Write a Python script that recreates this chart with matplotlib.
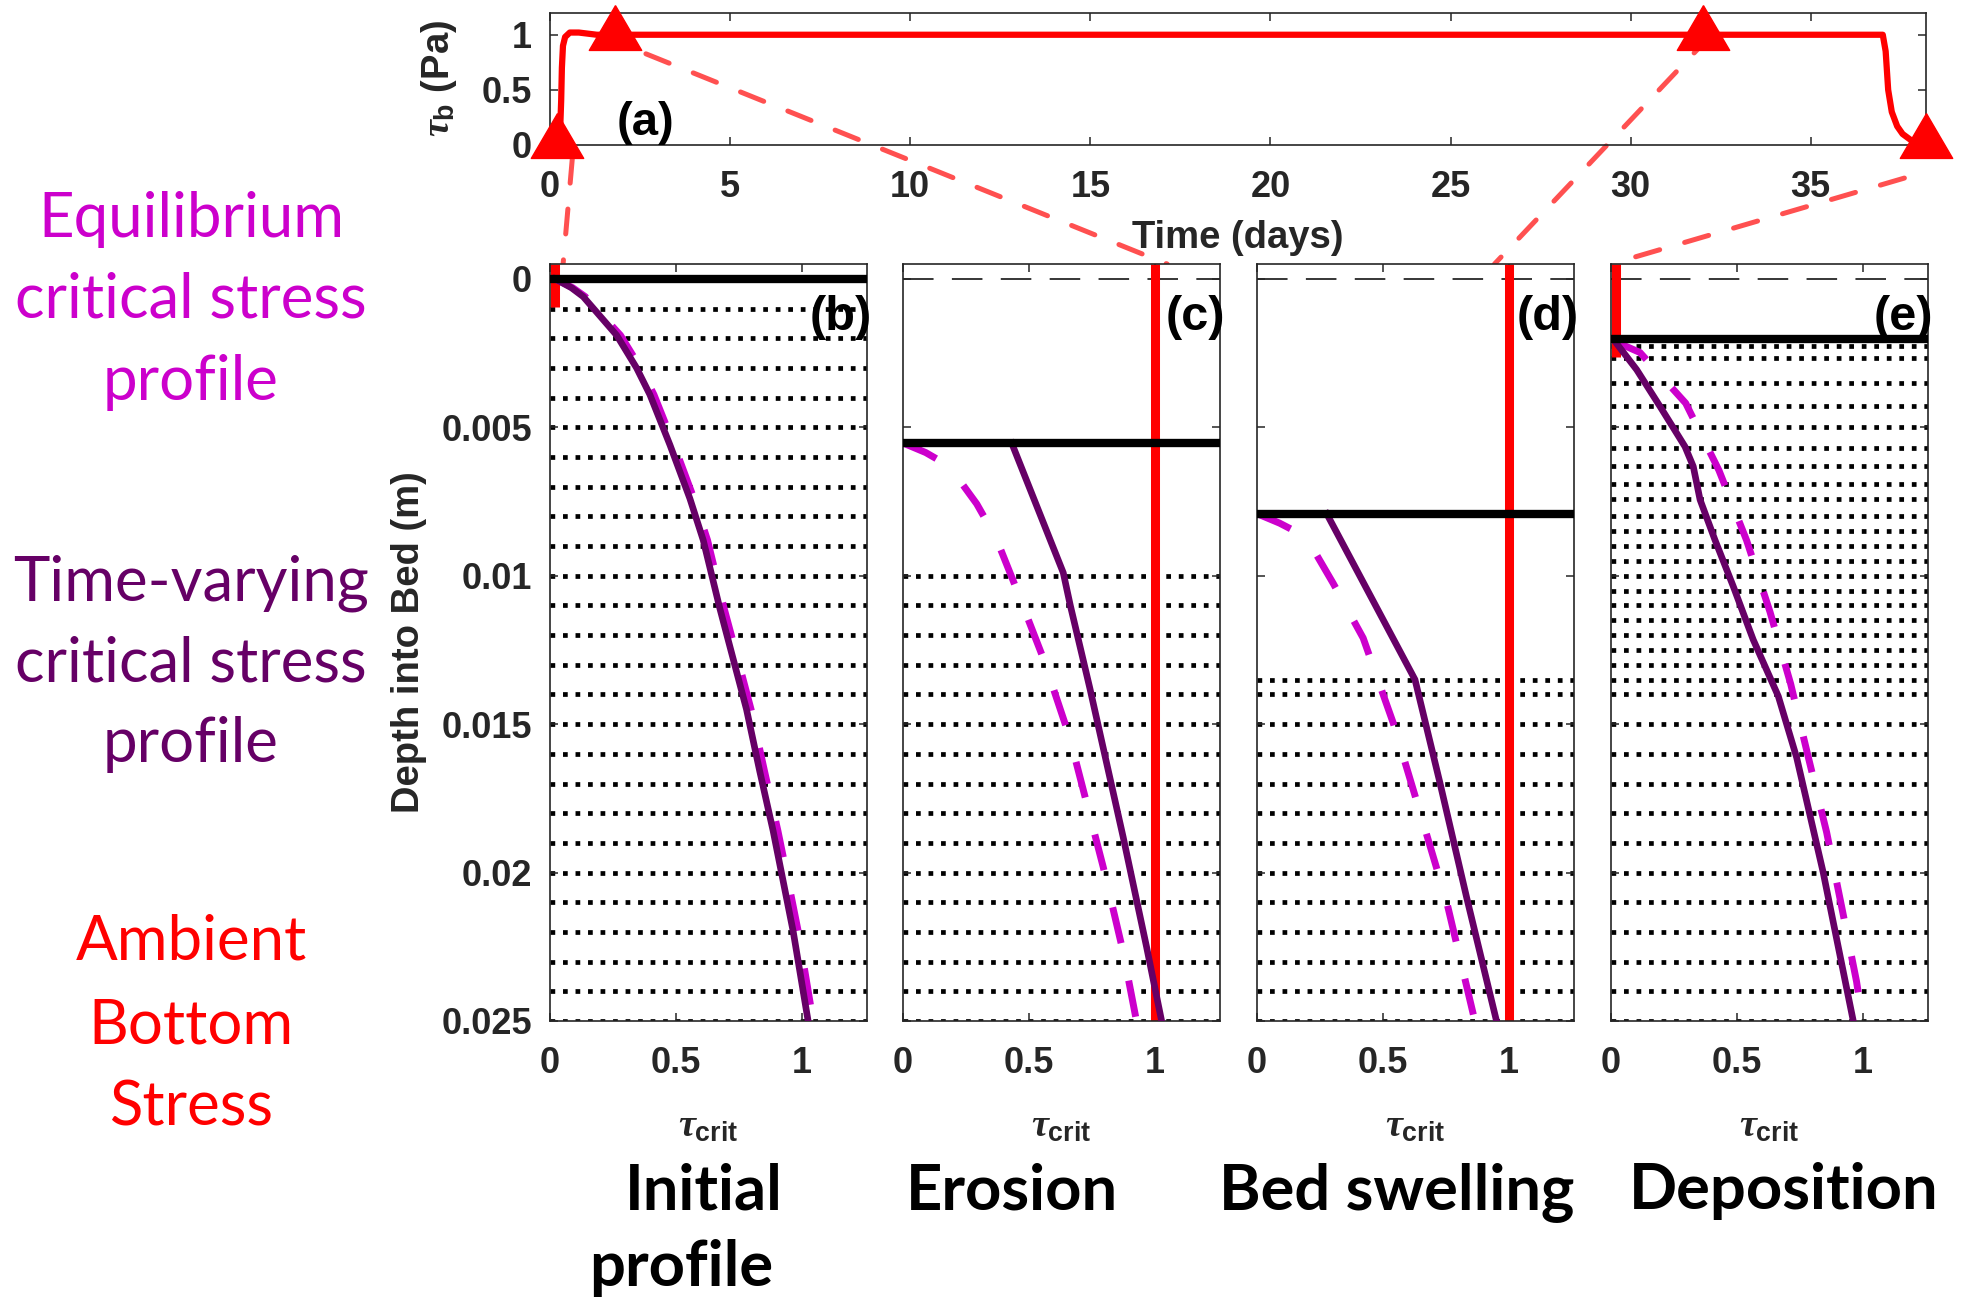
import matplotlib
matplotlib.use("Agg")
import matplotlib.pyplot as plt
from matplotlib.patches import ConnectionPatch
from matplotlib.path import Path

plt.rcParams["font.family"] = ["Liberation Sans", "DejaVu Sans"]
plt.rcParams["font.weight"] = "bold"
plt.rcParams["axes.labelweight"] = "bold"
plt.rcParams["mathtext.fontset"] = "custom"
plt.rcParams["mathtext.rm"] = "Liberation Sans:bold"
plt.rcParams["mathtext.bf"] = "Liberation Sans:bold"
plt.rcParams["mathtext.it"] = "Liberation Serif:italic"

# ----- (a) bottom stress time series -----
time_days = [0.2, 0.28, 0.31, 0.33, 0.36, 0.42, 0.55, 0.8, 1.3,
             37.0, 37.08, 37.15, 37.25, 37.4, 37.55, 37.8, 38.2]
tau_b = [0.02, 0.12, 0.4, 0.7, 0.9, 0.98, 1.02, 1.02, 1.0,
         1.0, 0.85, 0.5, 0.3, 0.17, 0.1, 0.04, 0.02]
snap_t = [0.2, 1.8, 32.0, 38.2]
snap_tau = [0.02, 1.0, 1.0, 0.02]

# ----- (b) initial profile -----
surf_b = 0.0
layers_b = [0.001, 0.002, 0.003, 0.004, 0.005, 0.006, 0.007, 0.008, 0.009, 0.010,
            0.011, 0.012, 0.013, 0.014, 0.015, 0.016, 0.017, 0.018, 0.019, 0.020,
            0.021, 0.022, 0.023, 0.024, 0.025]
z_tv_b = [0.0, 0.0003, 0.0006, 0.0019, 0.003, 0.0039, 0.0056, 0.0074, 0.0088,
          0.0111, 0.0128, 0.0145, 0.0166, 0.0186, 0.0203, 0.022, 0.025]
tc_tv_b = [0.02, 0.085, 0.132, 0.265, 0.344, 0.397, 0.477, 0.556, 0.609,
           0.675, 0.728, 0.781, 0.834, 0.887, 0.927, 0.967, 1.026]
z_eq_b = z_tv_b
tc_eq_b = [0.02, 0.09, 0.14, 0.28, 0.36, 0.413, 0.493, 0.572, 0.626,
           0.692, 0.746, 0.799, 0.853, 0.906, 0.947, 0.987, 1.046]
tau_now_b = 0.02
red_end_b = 0.00094

# ----- (c) erosion -----
surf_c = 0.00553
layers_c = [0.010, 0.011, 0.012, 0.013, 0.014, 0.015, 0.016, 0.017, 0.018, 0.019,
            0.020, 0.021, 0.022, 0.023, 0.024, 0.025]
z_tv_c = [0.00553, 0.0099, 0.011, 0.0138, 0.0188, 0.0225, 0.025]
tc_tv_c = [0.432, 0.637, 0.665, 0.743, 0.875, 0.968, 1.028]
z_eq_c = [0.00553, 0.00585, 0.00607, 0.00673, 0.00758, 0.00873, 0.01017, 0.01277,
          0.01546, 0.01982, 0.02267, 0.025]
tc_eq_c = [0.0, 0.09, 0.135, 0.22, 0.293, 0.37, 0.438, 0.557,
           0.663, 0.796, 0.875, 0.928]
tau_now_c = 1.0
red_end_c = 0.025

# ----- (d) bed swelling -----
surf_d = 0.00791
layers_d = [0.0135, 0.014, 0.015, 0.016, 0.017, 0.018, 0.019, 0.020,
            0.021, 0.022, 0.023, 0.024, 0.025]
z_tv_d = [0.00791, 0.0135, 0.01697, 0.02083, 0.025]
tc_tv_d = [0.277, 0.628, 0.727, 0.833, 0.952]
z_eq_d = [0.00791, 0.00823, 0.00845, 0.0092, 0.01026, 0.0121, 0.01495, 0.01797,
          0.02099, 0.025]
tc_eq_d = [0.0, 0.09, 0.14, 0.23, 0.303, 0.422, 0.541, 0.648,
           0.754, 0.866]
tau_now_d = 1.0
red_end_d = 0.025

# ----- (e) deposition -----
surf_e = 0.00204
layers_e = [0.00225, 0.00265, 0.0035, 0.0043, 0.005, 0.0057, 0.0063, 0.0069, 0.0074,
            0.008, 0.0085, 0.009, 0.0095, 0.010, 0.0105, 0.011, 0.0115, 0.012,
            0.0125, 0.013, 0.0135, 0.014, 0.015, 0.016, 0.017, 0.018, 0.019,
            0.020, 0.021, 0.022, 0.023, 0.024, 0.025]
z_tv_e = [0.00211, 0.00306, 0.0043, 0.00565, 0.00632, 0.00744, 0.00879, 0.01036,
          0.01215, 0.01406, 0.01613, 0.01998, 0.025]
tc_tv_e = [0.016, 0.102, 0.195, 0.294, 0.327, 0.354, 0.413, 0.486,
           0.565, 0.665, 0.738, 0.843, 0.963]
z_eq_e = [0.00211, 0.00248, 0.00419, 0.00645, 0.00881, 0.01122, 0.01364, 0.01621,
          0.01864, 0.02116, 0.02367, 0.025]
tc_eq_e = [0.016, 0.115, 0.297, 0.429, 0.539, 0.632, 0.714, 0.787,
           0.857, 0.917, 0.976, 1.0]
tau_now_e = 0.02
red_end_e = 0.00263

RED = "#ff0000"
PURPLE = "#660066"
MAGENTA = "#cc00cc"
CONN = "#ff5050"
AXC = "#262626"
TICK_FS = 26
LABEL_FS = 27.5

W, H = 1961, 1302
fig = plt.figure(figsize=(W / 100, H / 100), dpi=100)


def add_axes_px(x0, y0, x1, y1):
    return fig.add_axes([x0 / W, 1 - y1 / H, (x1 - x0) / W, (y1 - y0) / H])


def style(ax):
    for s in ax.spines.values():
        s.set_color(AXC)
        s.set_linewidth(1.2)
    ax.tick_params(direction="in", length=6, width=1.1, color=AXC,
                   top=True, right=True, labelsize=TICK_FS, labelcolor=AXC)
    ax.tick_params(axis="x", pad=18)
    ax.tick_params(axis="y", pad=13)


# triangle marker with its centroid on the data point
tri = Path([(0, 1.0), (-0.877, -0.5), (0.877, -0.5), (0, 1.0)])

# ---------- (a) ----------
ax_a = add_axes_px(550, 12.7, 1926, 145)
ax_a.plot(time_days, tau_b, color=RED, lw=4.5, solid_joinstyle="round", zorder=3)
ax_a.plot(snap_t, snap_tau, ls="none", marker=tri, ms=43, color=RED,
          clip_on=False, zorder=5)
ax_a.set_xlim(0, 38.2)
ax_a.set_ylim(0, 1.2)
ax_a.set_xticks([0, 5, 10, 15, 20, 25, 30, 35])
ax_a.set_yticks([0, 0.5, 1])
ax_a.set_yticklabels(["0", "0.5", "1"])
style(ax_a)
ax_a.set_xlabel("Time (days)", fontsize=LABEL_FS, color=AXC, labelpad=11)
ax_a.set_ylabel(r"$\tau_{\mathbf{b}}$ (Pa)", fontsize=LABEL_FS, color=AXC, labelpad=16)
ax_a.text(2.66, 0.2, "(a)", fontsize=34, ha="center", va="center", color="black")

# ---------- (b)-(e) ----------
panel_x = [550, 903, 1257, 1611]
panels = [
    ("(b)", surf_b, layers_b, z_eq_b, tc_eq_b, z_tv_b, tc_tv_b, tau_now_b, red_end_b),
    ("(c)", surf_c, layers_c, z_eq_c, tc_eq_c, z_tv_c, tc_tv_c, tau_now_c, red_end_c),
    ("(d)", surf_d, layers_d, z_eq_d, tc_eq_d, z_tv_d, tc_tv_d, tau_now_d, red_end_d),
    ("(e)", surf_e, layers_e, z_eq_e, tc_eq_e, z_tv_e, tc_tv_e, tau_now_e, red_end_e),
]
ytop = -0.0005
axes = []
for i, (lab, surf, layers, z_eq, tc_eq, z_tv, tc_tv, tau_now, red_end) in enumerate(panels):
    x0 = panel_x[i]
    ax = add_axes_px(x0, 264, x0 + 317, 1021)
    axes.append(ax)
    for zl in layers:
        ax.axhline(zl, color="black", lw=3.4, ls=":", zorder=1)
    if surf > 0:
        ax.axhline(0.0, color="black", lw=1.1, ls=(0, (20, 12)), zorder=1)
    ax.plot([tau_now, tau_now], [ytop, red_end], color=RED, lw=6.5,
            solid_capstyle="butt", zorder=2)
    ax.plot(tc_eq, z_eq, color=MAGENTA, lw=5, ls=(0, (5.3, 5.5)), zorder=3)
    ax.plot(tc_tv, z_tv, color=PURPLE, lw=4.8, solid_joinstyle="round", zorder=4)
    ax.axhline(surf, color="black", lw=6, zorder=5)
    ax.set_xlim(0, 1.26)
    ax.set_ylim(0.025, ytop)
    ax.set_xticks([0, 0.5, 1])
    ax.set_xticklabels(["0", "0.5", "1"])
    ax.set_yticks([0, 0.005, 0.01, 0.015, 0.02, 0.025])
    style(ax)
    if i == 0:
        ax.set_yticklabels(["0", "0.005", "0.01", "0.015", "0.02", "0.025"])
        ax.set_ylabel("Depth into Bed (m)", fontsize=LABEL_FS, color=AXC, labelpad=10)
    else:
        ax.set_yticklabels([])
    ax.set_xlabel(r"$\tau_{\mathbf{crit}}$", fontsize=LABEL_FS, color=AXC, labelpad=20)
    ax.text(1.015, 0.0013, lab, transform=ax.get_yaxis_transform(), fontsize=35,
            ha="right", va="center", color="black", zorder=6)

# dashed connectors from the snapshot markers to the depth profiles
conn_start = [(0.62, -0.12), (1.35, 1.0), (32.24, 1.0), (37.6, -0.3)]
conn_end_x = [0.052, 1.05, 0.944, 0.0]
for (ta, va), xe, ax in zip(conn_start, conn_end_x, axes):
    con = ConnectionPatch(xyA=(ta, va), coordsA=ax_a.transData,
                          xyB=(xe, ytop), coordsB=ax.transData,
                          color=CONN, lw=3.6, linestyle=(0, (5.0, 5.2)),
                          zorder=2, clip_on=False)
    ax_a.add_artist(con)

# legend-style annotations on the left
left_text = [
    (["Equilibrium", "critical stress", "profile"], [237, 318, 400], MAGENTA),
    (["Time-varying", "critical stress", "profile"], [600, 681, 762], PURPLE),
    (["Ambient", "Bottom", "Stress"], [960, 1044, 1126], RED),
]
for lines, ys, col in left_text:
    for s, y in zip(lines, ys):
        fig.text(191 / W, 1 - y / H, s, fontsize=44.5, family="Lato", weight="normal",
                 color=col, ha="center", va="baseline")

# stage titles under the panels
titles = [("Initial", 704, 1209), ("profile", 681, 1286), ("Erosion", 1012, 1209),
          ("Bed swelling", 1397, 1209), ("Deposition", 1784, 1209)]
for s, x, y in titles:
    fig.text(x / W, 1 - y / H, s, fontsize=45.5, family="Lato", weight="bold",
             color="black", ha="center", va="baseline")

fig.savefig("out.png", dpi=100, facecolor="white")
